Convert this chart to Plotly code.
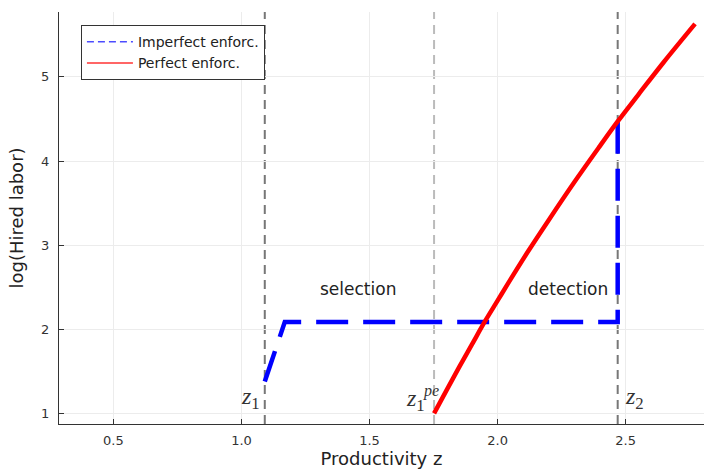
import plotly.graph_objects as go

# ---- data ----
z1 = 1.091
z1_pe = 1.752
z2 = 2.469

imp_z = [1.091, 1.169, 2.469, 2.469]
imp_logL = [1.38, 2.085, 2.085, 4.48]

pe_z = [1.752, 1.80, 1.85, 1.90, 1.95, 2.00, 2.05, 2.12, 2.20, 2.30,
        2.40, 2.469, 2.55, 2.65, 2.771]
pe_logL = [1.00, 1.27, 1.55, 1.82, 2.09, 2.34, 2.59, 2.93, 3.30, 3.75,
           4.18, 4.47, 4.79, 5.18, 5.63]

x_ticks = [0.5, 1.0, 1.5, 2.0, 2.5]
x_ticktext = ["0.5", "1.0", "1.5", "2.0", "2.5"]
y_ticks = [1, 2, 3, 4, 5]
y_ticktext = ["1", "2", "3", "4", "5"]

region_labels = ["selection", "detection"]
region_x = [1.454, 2.275]
region_y = [2.48, 2.48]

FONT = "DejaVu Sans"
MATH = "Liberation Serif"

fig = go.Figure()

fig.add_trace(go.Scatter(x=imp_z, y=imp_logL, mode="lines",
                         line=dict(color="#0000ff", width=4.5, dash="32px,15px"),
                         showlegend=False, hoverinfo="skip"))
fig.add_trace(go.Scatter(x=pe_z, y=pe_logL, mode="lines", line_shape="spline",
                         line=dict(color="#ff0000", width=4.5),
                         showlegend=False, hoverinfo="skip"))
# legend entries (thin samples as in the reference)
fig.add_trace(go.Scatter(x=[None], y=[None], mode="lines", name="Imperfect enforc.",
                         line=dict(color="rgba(0,0,255,0.7)", width=1.5, dash="7px,4px")))
fig.add_trace(go.Scatter(x=[None], y=[None], mode="lines", name="Perfect enforc.",
                         line=dict(color="rgba(255,0,0,0.8)", width=1.5)))

for zv, col in [(z1, "#777777"), (z1_pe, "#bbbbbb"), (z2, "#777777")]:
    fig.add_shape(type="line", xref="x", yref="paper", x0=zv, x1=zv, y0=0, y1=1,
                  line=dict(color=col, width=2, dash="9px,6px"), layer="between")

for t, xx, yy in zip(region_labels, region_x, region_y):
    fig.add_annotation(x=xx, y=yy, text=t, showarrow=False,
                       font=dict(family=FONT, size=17, color="#222222"))

mfont = dict(family=MATH, size=24, color="#333333")
fig.add_annotation(x=z1 - 0.012, y=1.18, text="<i>z</i><sub>1</sub>", showarrow=False,
                   xanchor="right", yanchor="middle", font=mfont)
fig.add_annotation(x=z1_pe - 0.026, y=1.16, text="<i>z</i><sub>1</sub>", showarrow=False,
                   xanchor="right", yanchor="middle", font=mfont)
fig.add_annotation(x=z1_pe - 0.012, y=1.27, text="<i>pe</i>", showarrow=False,
                   xanchor="center", yanchor="middle",
                   font=dict(family=MATH, size=16, color="#333333"))
fig.add_annotation(x=z2 + 0.022, y=1.18, text="<i>z</i><sub>2</sub>", showarrow=False,
                   xanchor="left", yanchor="middle", font=mfont)

axis_common = dict(showline=True, linecolor="#333333", linewidth=1.3, mirror=False,
                   ticks="inside", ticklen=5, tickcolor="#333333", tickwidth=1,
                   showgrid=True, gridcolor="#ececec", gridwidth=1, zeroline=False,
                   tickfont=dict(family=FONT, size=13, color="#333333"))

fig.update_xaxes(range=[0.2875, 2.806], tickvals=x_ticks, ticktext=x_ticktext,
                 title=dict(text="Productivity z", font=dict(family=FONT, size=18, color="#222222"),
                            standoff=6),
                 ticklabelstandoff=4, **axis_common)
fig.update_yaxes(range=[0.874, 5.771], tickvals=y_ticks, ticktext=y_ticktext,
                 title=dict(text="log(Hired labor)", font=dict(family=FONT, size=18, color="#222222"),
                            standoff=12),
                 ticklabelstandoff=6, **axis_common)

fig.update_layout(
    width=704, height=469,
    margin=dict(l=59, r=0, t=12, b=45, autoexpand=False),
    paper_bgcolor="white", plot_bgcolor="white",
    legend=dict(x=0.034, y=0.968, xanchor="left", yanchor="top",
                bordercolor="#333333", borderwidth=1, bgcolor="white",
                font=dict(family=FONT, size=14, color="#222222"),
                tracegroupgap=0, itemwidth=46),
    showlegend=True,
)

fig.write_html("out.html", config={"displayModeBar": False},
               post_script="document.body.style.margin='0';document.body.style.overflow='hidden';")
